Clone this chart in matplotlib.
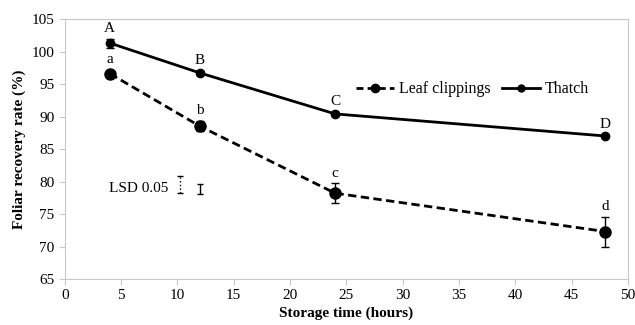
import matplotlib.pyplot as plt
from matplotlib.lines import Line2D

plt.rcParams['font.family'] = ['Liberation Serif', 'DejaVu Serif']

hours = [4, 12, 24, 48]
leaf = [96.6, 88.5, 78.2, 72.3]
leaf_err = [0.6, 0.8, 1.5, 2.3]
thatch = [101.3, 96.7, 90.4, 87.0]
thatch_err = [0.7, 0.3, 0.3, 0.2]
leaf_letters = ["a", "b", "c", "d"]
thatch_letters = ["A", "B", "C", "D"]

# LSD bars (x, center, half-width)
lsd_x = [10.2, 12.0]
lsd_mid = [79.55, 78.85]
lsd_half = [1.25, 0.75]

fig = plt.figure(figsize=(6.35, 3.25), dpi=100)
ax = fig.add_axes([0.102, 0.1415, 0.887, 0.8])

ax.errorbar(hours, leaf, yerr=leaf_err, color="black", ls="--", lw=2,
            marker="o", ms=8, capsize=3, elinewidth=1, dashes=(3, 1.6))
ax.errorbar(hours, thatch, yerr=thatch_err, color="black", ls="-", lw=2,
            marker="o", ms=6, capsize=3, elinewidth=1)

for x, y, e, t in zip(hours, leaf, leaf_err, leaf_letters):
    ax.text(x, y + e + 0.6, t, ha="center", va="bottom", fontsize=11)
for x, y, e, t in zip(hours, thatch, thatch_err, thatch_letters):
    ax.text(x, y + e + 0.6, t, ha="center", va="bottom", fontsize=11)

lsd1 = ax.errorbar(lsd_x[0], lsd_mid[0], yerr=lsd_half[0], fmt="none",
                   ecolor="black", capsize=2, elinewidth=1)
lsd1[2][0].set_linestyle(":")
ax.errorbar(lsd_x[1], lsd_mid[1], yerr=lsd_half[1], fmt="none",
            ecolor="black", capsize=2, elinewidth=1)
ax.text(3.9, 79.0, "LSD 0.05", ha="left", va="center", fontsize=11)

ax.set_xlim(0, 50)
ax.set_ylim(65, 105)
ax.set_xticks(range(0, 51, 5))
ax.set_yticks(range(65, 106, 5))
ax.set_xlabel("Storage time (hours)", fontsize=11, fontweight="bold", labelpad=3)
ax.set_ylabel("Foliar recovery rate (%)", fontsize=11, fontweight="bold")
for s in ax.spines.values():
    s.set_color("#c8c8c8")
ax.tick_params(colors="#c8c8c8", labelcolor="black", labelsize=11, length=4)

handles = [
    Line2D([], [], color="black", ls="--", lw=2, dashes=(2.5, 1.5), marker="o", ms=6),
    Line2D([], [], color="black", ls="-", lw=2, marker="o", ms=5),
]
ax.legend(handles, ["Leaf clippings", "Thatch"], loc="center right",
          bbox_to_anchor=(0.945, 0.73), ncol=2, frameon=False,
          fontsize=11.5, handlelength=2.4, columnspacing=0.7, handletextpad=0.3,
          borderpad=0)

fig.savefig("out.png", dpi=100)
